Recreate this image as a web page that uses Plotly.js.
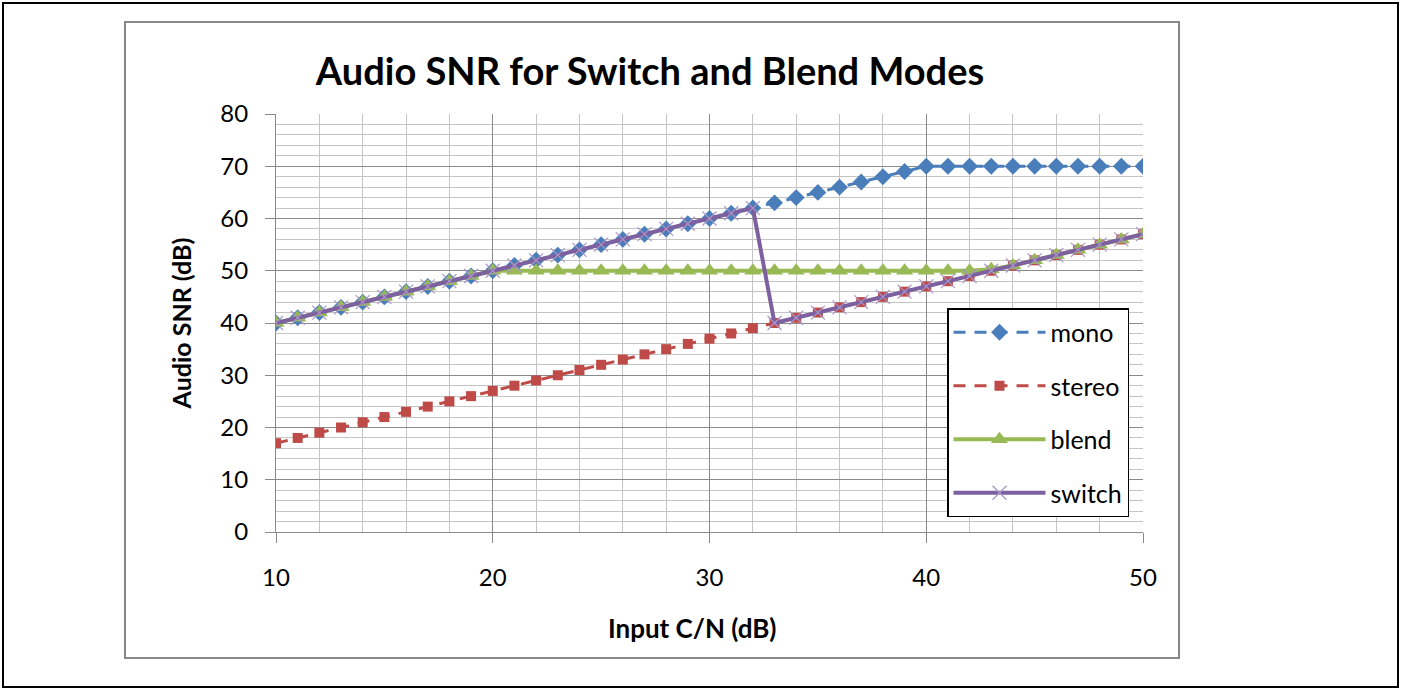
<!DOCTYPE html>
<html>
<head>
<meta charset="utf-8">
<script src="https://cdn.plot.ly/plotly-3.0.1.min.js"></script>
<style>
html,body{margin:0;padding:0;background:#fff;}
#chart{width:1402px;height:690px;}
</style>
</head>
<body>
<div id="chart"></div>
<script>
const inputCN = [10,11,12,13,14,15,16,17,18,19,20,21,22,23,24,25,26,27,28,29,30,31,32,33,34,35,36,37,38,39,40,41,42,43,44,45,46,47,48,49,50];
const mono   = [40,41,42,43,44,45,46,47,48,49,50,51,52,53,54,55,56,57,58,59,60,61,62,63,64,65,66,67,68,69,70,70,70,70,70,70,70,70,70,70,70];
const stereo = [17,18,19,20,21,22,23,24,25,26,27,28,29,30,31,32,33,34,35,36,37,38,39,40,41,42,43,44,45,46,47,48,49,50,51,52,53,54,55,56,57];
const blend  = [40,41,42,43,44,45,46,47,48,49,50,50,50,50,50,50,50,50,50,50,50,50,50,50,50,50,50,50,50,50,50,50,50,50.3,51,52,53,54,55,56,57];
const switchMode = [40,41,42,43,44,45,46,47,48,49,50,51,52,53,54,55,56,57,58,59,60,61,62,40,41,42,43,44,45,46,47,48,49,50,51,52,53,54,55,56,57];
const seriesNames = ["mono","stereo","blend","switch"];
const yTicks = [0,10,20,30,40,50,60,70,80];
const xTicks = [10,20,30,40,50];

const FONT = "Lato, 'Open Sans', sans-serif";

const traces = [
  {x: inputCN, y: mono, name: seriesNames[0], mode: "lines+markers", legendgroup: "a",
   line: {color: "#4A7EBB", width: 3, dash: "12px,9px"},
   marker: {symbol: "diamond", size: 13, color: "#4A7EBB"}},
  {x: inputCN, y: stereo, name: seriesNames[1], mode: "lines+markers", legendgroup: "b",
   line: {color: "#BE4B48", width: 3, dash: "12px,9px"},
   marker: {symbol: "square", size: 10, color: "#BE4B48"}},
  {x: inputCN, y: blend, name: seriesNames[2], mode: "lines+markers", legendgroup: "c",
   line: {color: "#98B954", width: 4},
   marker: {symbol: "triangle-up", size: 15, color: "#98B954"}},
  {x: inputCN, y: switchMode, name: seriesNames[3], mode: "lines+markers", legendgroup: "d",
   line: {color: "#7D60A0", width: 4},
   marker: {symbol: "x-thin-open", size: 14, color: "#A995C8", line: {color: "#A995C8", width: 1.2}}}
];

// pixel -> paper helpers (plot area: x 276..1143, y 114..532)
const px = v => (v - 276) / 867;
const py = v => (532 - v) / 418;

const layout = {
  width: 1402, height: 690,
  margin: {l: 276, r: 259, t: 114, b: 158},
  paper_bgcolor: "#fff", plot_bgcolor: "#fff",
  font: {family: FONT, color: "#000"},
  title: {text: "<b>Audio SNR for Switch and Blend Modes</b>", font: {family: FONT, size: 38, color: "#000"},
          x: px(650), xref: "paper", xanchor: "center", y: 1 - 72/690, yanchor: "middle"},
  showlegend: true,
  legend: {x: px(947), y: py(308), xanchor: "left", yanchor: "top",
           bordercolor: "#000", borderwidth: 1.5, bgcolor: "#fff",
           font: {family: FONT, size: 25, color: "#000"}, tracegroupgap: 18,
           traceorder: "grouped", itemwidth: 92},
  xaxis: {range: [10, 50], tickvals: xTicks, ticktext: xTicks.map(String),
          showgrid: true, gridcolor: "#8a8a8a", gridwidth: 1,
          minor: {dtick: 2, showgrid: true, gridcolor: "#c4c4c4", gridwidth: 1},
          showline: true, linecolor: "#8a8a8a", linewidth: 1,
          ticks: "outside", ticklen: 10, tickcolor: "#8a8a8a",
          ticklabelstandoff: 14, zeroline: false,
          tickfont: {family: FONT, size: 24, color: "#000"}},
  yaxis: {range: [0, 80], tickvals: yTicks, ticktext: yTicks.map(String),
          showgrid: true, gridcolor: "#8a8a8a", gridwidth: 1,
          minor: {dtick: 2, showgrid: true, gridcolor: "#c4c4c4", gridwidth: 1},
          showline: true, linecolor: "#8a8a8a", linewidth: 1,
          ticks: "outside", ticklen: 10, tickcolor: "#8a8a8a",
          ticklabelstandoff: 12, zeroline: false,
          tickfont: {family: FONT, size: 24, color: "#000"},
          title: {text: "<b>Audio SNR (dB)</b>", font: {family: FONT, size: 25, color: "#000"}, standoff: 21}},
  annotations: [
    {text: "<b>Input C/N (dB)</b>", xref: "paper", yref: "paper", x: px(692), y: py(628),
     xanchor: "center", yanchor: "middle", showarrow: false, font: {family: FONT, size: 26, color: "#000"}}
  ],
  shapes: [
    {type: "rect", xref: "paper", yref: "paper", x0: px(3), x1: px(1398), y0: py(3), y1: py(687),
     line: {color: "#000", width: 2}, layer: "below"},
    {type: "rect", xref: "paper", yref: "paper", x0: px(125), x1: px(1179), y0: py(22), y1: py(658),
     line: {color: "#868686", width: 2}, layer: "below"}
  ]
};

Plotly.newPlot("chart", traces, layout, {displayModeBar: false, staticPlot: true});
</script>
</body>
</html>
